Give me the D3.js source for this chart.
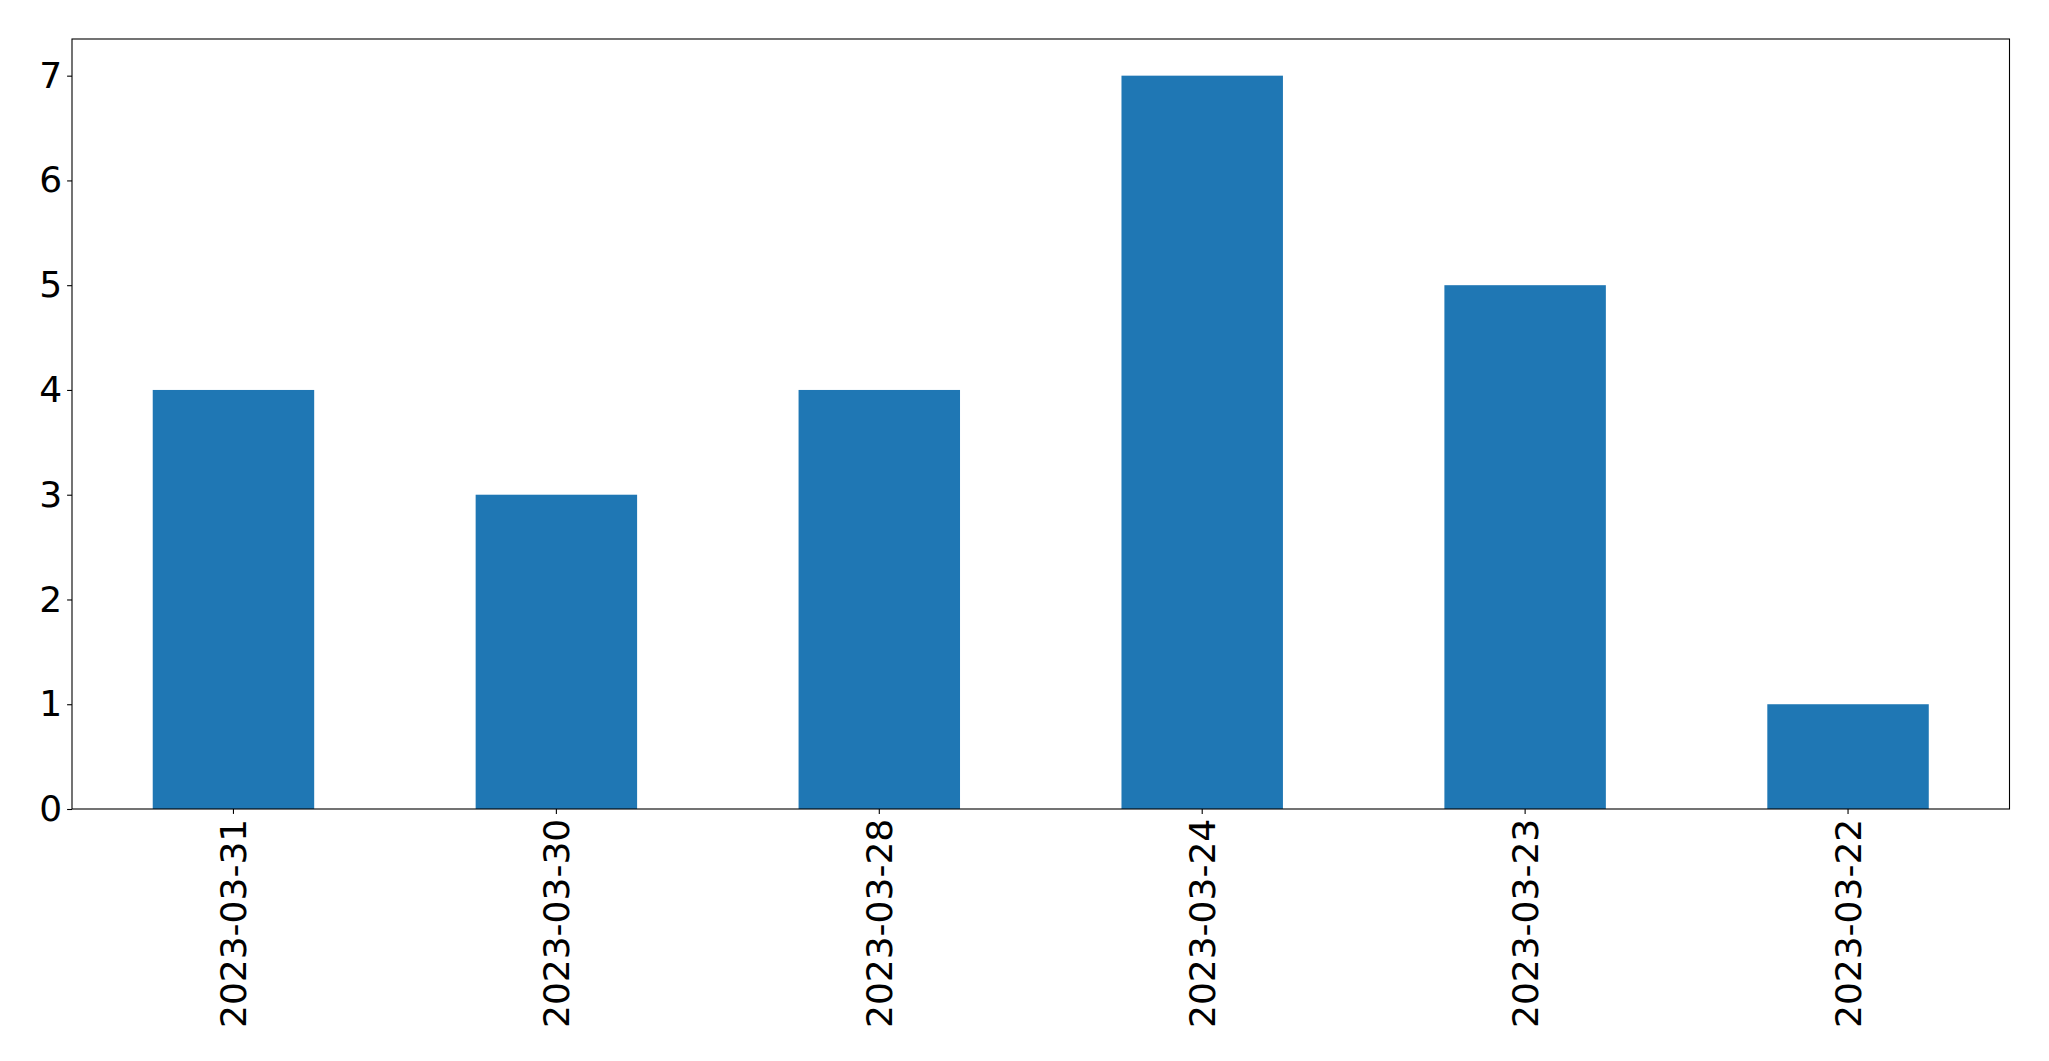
<!DOCTYPE html>
<html>
<head>
<meta charset="utf-8">
<script src="https://cdn.jsdelivr.net/npm/d3@7"></script>
<style>
  html, body { margin: 0; padding: 0; background: #fff; }
  svg { display: block; }
  text { font-family: "DejaVu Sans", sans-serif; }
</style>
</head>
<body>
<script>
const categories = ["2023-03-31", "2023-03-30", "2023-03-28", "2023-03-24", "2023-03-23", "2023-03-22"];
const values = [4, 3, 4, 7, 5, 1];
const yTicks = [0, 1, 2, 3, 4, 5, 6, 7];

const W = 2049, H = 1061;
const mLeft = 72, mRight = 2009.5, mTop = 39, mBottom = 809;
const fontSize = 36;

const svg = d3.select("body").append("svg").attr("width", W).attr("height", H);

const x = d3.scaleBand().domain(categories).range([mLeft, mRight]).paddingInner(0.5).paddingOuter(0.25);
const yMax = d3.max(values) * 1.05;
const y = d3.scaleLinear().domain([0, yMax]).range([mBottom, mTop]);

const data = categories.map((c, i) => ({ c, v: values[i] }));

svg.append("g").selectAll("rect").data(data).join("rect")
  .attr("x", d => x(d.c))
  .attr("width", x.bandwidth())
  .attr("y", d => y(d.v))
  .attr("height", d => y(0) - y(d.v))
  .attr("fill", "#1f77b4");

// y axis
const yAxis = svg.append("g").attr("transform", `translate(${mLeft},0)`)
  .call(d3.axisLeft(y).tickValues(yTicks).tickFormat(d3.format("d")).tickSize(4.9).tickPadding(4.9));
yAxis.select(".domain").remove();
yAxis.selectAll(".tick line").attr("stroke", "#000").attr("stroke-width", 1.1);
yAxis.selectAll(".tick text").attr("font-size", fontSize).attr("fill", "#000")
  .attr("font-family", "DejaVu Sans");

// x axis
const xAxis = svg.append("g").attr("transform", `translate(0,${mBottom})`)
  .call(d3.axisBottom(x).tickSize(4.9).tickPadding(0));
xAxis.select(".domain").remove();
xAxis.selectAll(".tick line").attr("stroke", "#000").attr("stroke-width", 1.1);
xAxis.selectAll(".tick text")
  .attr("font-size", fontSize).attr("fill", "#000").attr("font-family", "DejaVu Sans")
  .attr("transform", "translate(0,9.8) rotate(-90)")
  .attr("x", 0).attr("y", 0).attr("dy", null)
  .attr("dominant-baseline", "central")
  .attr("text-anchor", "end");

// frame
svg.append("rect")
  .attr("x", mLeft).attr("y", mTop)
  .attr("width", mRight - mLeft).attr("height", mBottom - mTop)
  .attr("fill", "none").attr("stroke", "#000").attr("stroke-width", 1.1);
</script>
</body>
</html>
